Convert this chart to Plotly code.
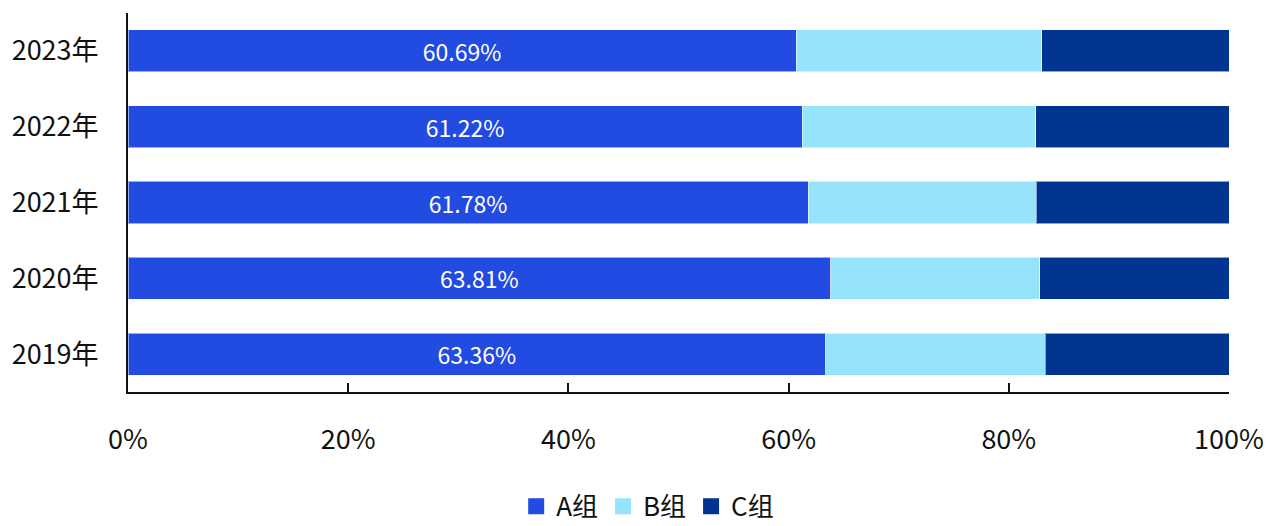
import plotly.graph_objects as go

years = ["2019年", "2020年", "2021年", "2022年", "2023年"]
group_a = [63.36, 63.81, 61.78, 61.22, 60.69]
group_b = [19.93, 19.02, 20.70, 21.25, 22.31]
group_c = [16.71, 17.17, 17.52, 17.53, 17.00]
series_names = ["A组", "B组", "C组"]
series_colors = ["#214BE1", "#96E4FC", "#003490"]
tick_values = [0, 20, 40, 60, 80, 100]
tick_labels = ["0%", "20%", "40%", "60%", "80%", "100%"]

FONT = "Noto Sans CJK SC, Noto Sans, sans-serif"
INK = "#111111"

fig = go.Figure()
for name, vals, color in zip(series_names, [group_a, group_b, group_c], series_colors):
    is_a = name == "A组"
    fig.add_trace(go.Bar(
        y=years, x=vals, orientation="h", name=name,
        marker=dict(color=color, line=dict(color="rgba(255,255,255,0.55)", width=1)),
        text=[f"{v:.2f}%" for v in vals] if is_a else None,
        textposition="inside" if is_a else "none",
        insidetextanchor="middle",
        textfont=dict(color="white", size=23, family=FONT),
        showlegend=False,
        hoverinfo="x+y+name",
    ))
    # legend entry with a larger square swatch
    fig.add_trace(go.Scatter(
        x=[None], y=[None], mode="markers", name=name,
        marker=dict(symbol="square", size=20, color=color),
        showlegend=True,
    ))

fig.update_layout(
    barmode="stack",
    bargap=0.445,
    width=1267, height=526,
    margin=dict(l=128, r=38, t=13, b=134, autoexpand=False),
    paper_bgcolor="white", plot_bgcolor="white",
    font=dict(family=FONT, size=27, color=INK),
    uniformtext=dict(minsize=8, mode="show"),
    legend=dict(
        orientation="h", traceorder="normal",
        x=0.472, xanchor="center",
        y=-0.302, yanchor="middle",
        font=dict(size=26, family=FONT, color=INK),
        itemwidth=30, tracegroupgap=0,
        bgcolor="rgba(0,0,0,0)",
    ),
)
fig.update_xaxes(
    range=[0, 100], tickvals=tick_values, ticktext=tick_labels,
    showline=True, linecolor=INK, linewidth=2,
    ticks="inside", ticklen=9, tickwidth=2, tickcolor=INK,
    showgrid=False, zeroline=False, ticklabelstandoff=23,
    tickfont=dict(size=27, family=FONT, color=INK),
)
fig.update_yaxes(
    categoryorder="array", categoryarray=years,
    showline=True, linecolor=INK, linewidth=2,
    ticks="", showgrid=False, zeroline=False, ticklabelstandoff=22,
    tickfont=dict(size=27, family=FONT, color=INK),
)

fig.write_html("out.html")
